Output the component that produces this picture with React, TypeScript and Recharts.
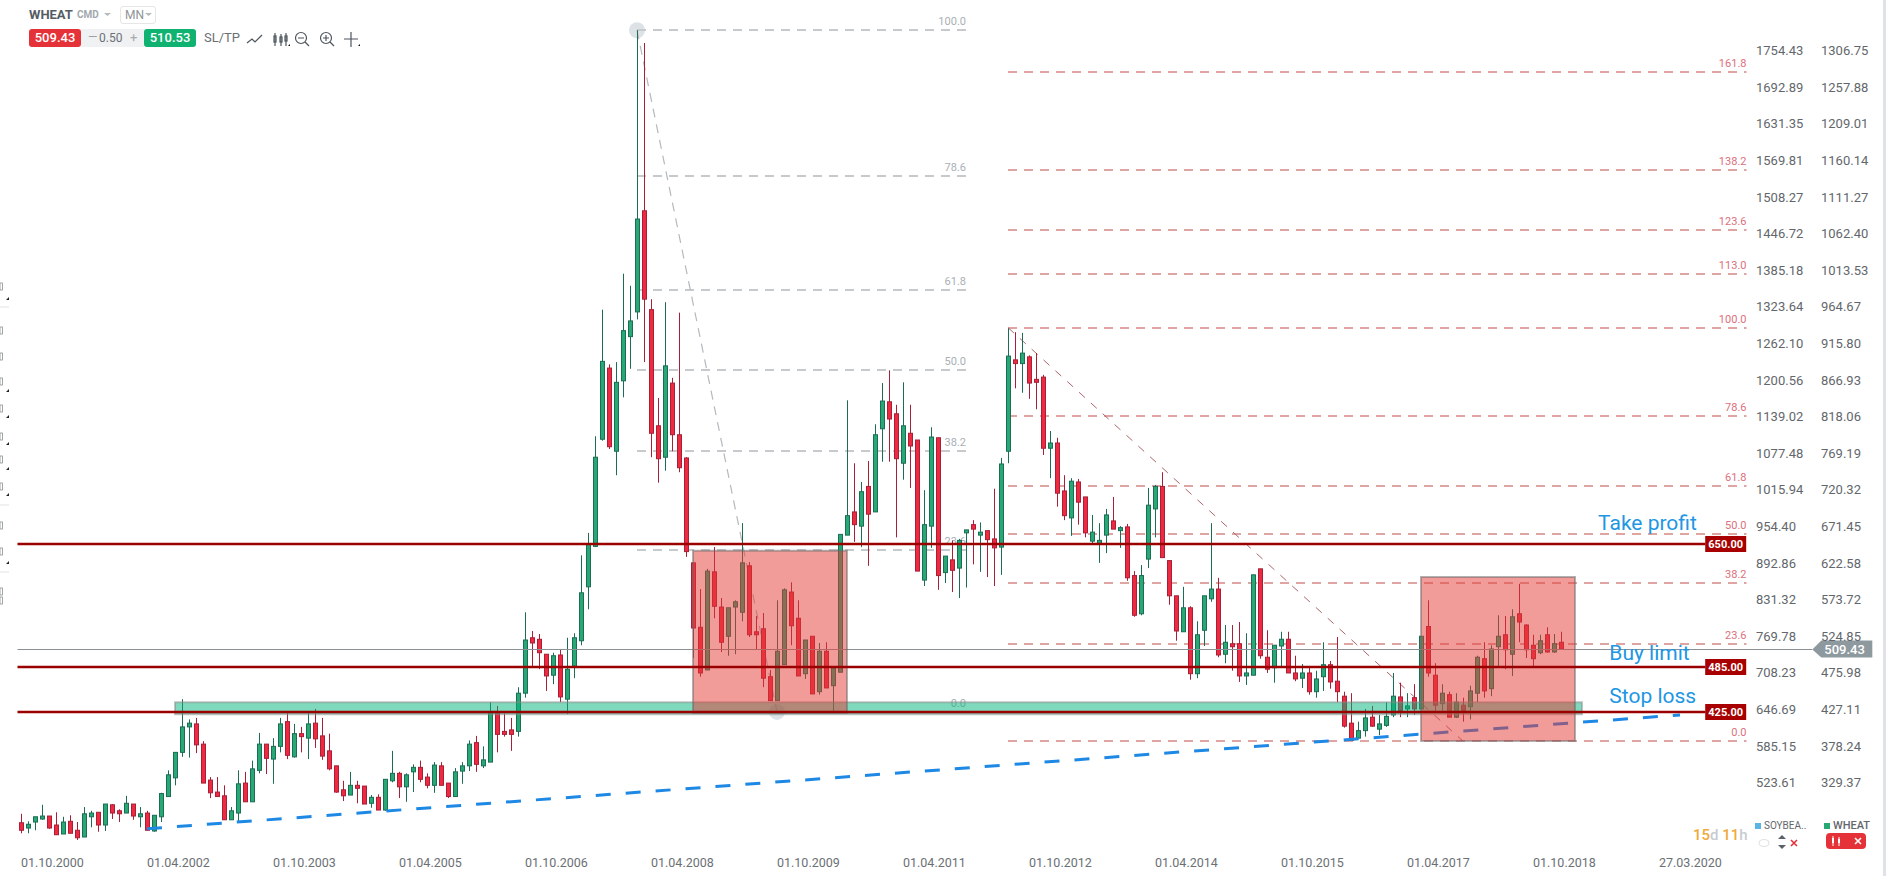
import { ComposedChart, Bar, XAxis, YAxis, ReferenceLine, ReferenceArea, ReferenceDot } from 'recharts';

const FONT = 'Roboto, sans-serif';
const UP = '#27a874';
const UP_DARK = '#1b6d55';
const DOWN = '#ef2a40';
const DOWN_DARK = '#a81f38';

// monthly candles from 01.10.2000, wheat price scale
const opens = [
  278, 271, 279, 283, 287, 275, 263, 280, 268, 259, 286, 292, 275, 302, 294, 291, 303, 286, 291, 267,
  286, 313, 338, 372, 406, 410, 383, 335, 319, 314, 282, 291, 331, 306, 348, 383, 363, 380, 413, 366,
  397, 391, 411, 394, 374, 354, 322, 315, 328, 327, 304, 312, 295, 334, 344, 326, 346, 352, 339, 328,
  354, 331, 313, 347, 354, 385, 354, 359, 425, 400, 402, 400, 451, 525, 523, 503, 475, 502, 443, 487,
  521, 593, 647, 790, 885, 774, 868, 927, 960, 1095, 963, 808, 766, 865, 796, 765, 625, 539, 482, 613,
  566, 527, 566, 559, 621, 533, 537, 473, 441, 489, 586, 551, 477, 527, 453, 507, 461, 479, 662, 693,
  674, 727, 693, 804, 840, 824, 758, 798, 789, 602, 674, 792, 612, 629, 618, 665, 676, 662, 668, 657,
  646, 774, 896, 891, 900, 870, 873, 778, 785, 721, 685, 733, 713, 654, 651, 662, 681, 668, 673, 608,
  557, 630, 697, 727, 628, 581, 533, 565, 477, 535, 577, 590, 503, 517, 517, 474, 475, 617, 499, 485,
  514, 523, 478, 471, 478, 453, 473, 489, 467, 447, 411, 391, 401, 419, 403, 408, 422, 446, 430, 445,
  430, 540, 475, 437, 449, 419, 435, 433, 451, 497, 457, 513, 529, 503, 557, 542, 515, 505, 529, 506,
  519,
];
const highs = [
  290, 280, 286, 302, 287, 292, 286, 288, 279, 299, 294, 292, 303, 303, 296, 314, 303, 299, 294, 288,
  318, 348, 372, 443, 416, 418, 387, 339, 339, 328, 299, 348, 346, 361, 398, 383, 391, 418, 425, 410,
  406, 425, 430, 418, 397, 354, 334, 346, 334, 327, 315, 316, 336, 374, 346, 344, 356, 361, 344, 359,
  359, 331, 351, 359, 388, 394, 380, 439, 434, 424, 418, 459, 559, 534, 530, 503, 505, 510, 525, 531,
  635, 665, 794, 963, 890, 893, 1011, 995, 1336, 1319, 977, 845, 973, 872, 959, 766, 625, 590, 617, 646,
  578, 565, 575, 678, 626, 554, 558, 482, 575, 591, 599, 575, 522, 527, 518, 519, 485, 663, 842, 758,
  733, 761, 810, 865, 882, 836, 866, 836, 789, 722, 806, 792, 634, 655, 657, 669, 682, 679, 668, 724,
  765, 938, 933, 932, 902, 905, 876, 801, 792, 742, 738, 737, 713, 689, 678, 697, 713, 674, 677, 614,
  622, 725, 729, 746, 628, 581, 593, 567, 547, 581, 678, 605, 542, 542, 546, 531, 609, 617, 535, 515,
  533, 533, 501, 490, 485, 481, 519, 494, 526, 453, 451, 413, 430, 434, 422, 439, 478, 465, 451, 463,
  527, 575, 491, 463, 453, 451, 445, 461, 501, 519, 515, 555, 554, 563, 597, 543, 529, 529, 539, 530,
  533,
];
const lows = [
  264, 264, 268, 282, 270, 262, 263, 264, 255, 259, 272, 266, 267, 283, 279, 291, 282, 272, 268, 266,
  279, 313, 328, 366, 365, 371, 331, 311, 313, 282, 282, 279, 306, 306, 344, 343, 330, 372, 363, 365,
  372, 363, 378, 362, 348, 318, 307, 315, 304, 303, 298, 295, 294, 332, 311, 306, 319, 332, 324, 318,
  328, 311, 313, 330, 347, 346, 351, 359, 372, 393, 374, 393, 445, 487, 483, 454, 463, 439, 423, 471,
  515, 563, 646, 788, 777, 742, 846, 884, 950, 893, 766, 732, 748, 774, 746, 633, 498, 473, 482, 551,
  506, 501, 503, 547, 526, 509, 459, 441, 441, 489, 515, 474, 470, 450, 449, 458, 426, 479, 662, 653,
  646, 621, 693, 760, 760, 659, 736, 725, 614, 594, 645, 589, 598, 586, 578, 592, 623, 613, 606, 594,
  609, 758, 858, 852, 844, 830, 769, 738, 700, 682, 661, 676, 659, 651, 625, 638, 670, 645, 601, 553,
  555, 618, 659, 632, 569, 521, 533, 469, 471, 514, 573, 499, 491, 481, 466, 462, 475, 497, 478, 465,
  486, 478, 467, 458, 449, 445, 454, 457, 439, 405, 388, 391, 393, 406, 395, 406, 419, 419, 419, 422,
  430, 473, 426, 428, 419, 418, 413, 416, 439, 445, 447, 486, 483, 474, 519, 498, 487, 503, 505, 505,
  511,
];
const closes = [
  268, 276, 286, 287, 271, 262, 279, 264, 258, 290, 291, 275, 303, 291, 290, 304, 287, 290, 268, 288,
  317, 342, 372, 406, 411, 382, 331, 318, 313, 282, 294, 330, 306, 350, 383, 364, 380, 410, 368, 397,
  393, 410, 390, 367, 350, 319, 314, 328, 324, 303, 312, 295, 336, 344, 326, 342, 352, 336, 328, 355,
  328, 313, 346, 354, 383, 356, 362, 425, 396, 396, 396, 451, 522, 518, 505, 474, 501, 446, 483, 525,
  585, 650, 766, 894, 780, 866, 935, 948, 1084, 977, 798, 764, 888, 796, 752, 640, 538, 478, 614, 567,
  519, 565, 573, 625, 529, 529, 471, 441, 507, 589, 541, 474, 522, 450, 507, 458, 485, 663, 688, 676,
  720, 690, 796, 841, 817, 764, 808, 781, 614, 676, 793, 608, 634, 615, 655, 669, 670, 666, 656, 645,
  757, 901, 891, 905, 865, 866, 778, 785, 718, 688, 734, 706, 665, 666, 655, 689, 670, 672, 605, 555,
  608, 702, 727, 632, 581, 534, 565, 477, 529, 581, 590, 502, 519, 513, 474, 478, 609, 501, 483, 515,
  523, 478, 470, 478, 453, 470, 489, 466, 453, 407, 388, 401, 418, 407, 410, 420, 447, 428, 434, 430,
  527, 478, 435, 451, 419, 439, 428, 454, 499, 454, 510, 527, 509, 553, 546, 509, 497, 521, 506, 517,
  510,
];

const dateTicks = [0, 18, 36, 54, 72, 90, 108, 126, 144, 162, 180, 198, 216, 234];
const dateLabels = [
  '01.10.2000', '01.04.2002', '01.10.2003', '01.04.2005', '01.10.2006', '01.04.2008', '01.10.2009',
  '01.04.2011', '01.10.2012', '01.04.2014', '01.10.2015', '01.04.2017', '01.10.2018', '27.03.2020',
];
// soybean scale shares its rows with the wheat scale, no soybean series is on screen
const soyTicks = [
  1754.43, 1692.89, 1631.35, 1569.81, 1508.27, 1446.72, 1385.18, 1323.64, 1262.1, 1200.56, 1139.02,
  1077.48, 1015.94, 954.4, 892.86, 831.32, 769.78, 708.23, 646.69, 585.15, 523.61,
];
const wheatTicks = [
  1306.75, 1257.88, 1209.01, 1160.14, 1111.27, 1062.4, 1013.53, 964.67, 915.8, 866.93, 818.06, 769.19,
  720.32, 671.45, 622.58, 573.72, 524.85, 475.98, 427.11, 378.24, 329.37,
];

// fibonacci sets
const greyFibNames = ['100.0', '78.6', '61.8', '50.0', '38.2', '23.6', '0.0'];
const greyFibPrices = [1336, 1141, 989, 882, 774, 642, 426];
const redFibNames = ['161.8', '138.2', '123.6', '113.0', '100.0', '78.6', '61.8', '50.0', '38.2', '23.6', '0.0'];
const redFibPrices = [1280, 1150, 1069, 1011, 939, 821, 728, 663, 598, 517, 387];

const orderPrices = [650, 485, 425];
const currentPrice = 509.43;

const notes = [
  { text: 'Take profit', month: 225.3, price: 669 },
  { text: 'Buy limit', month: 226.9, price: 495 },
  { text: 'Stop loss', month: 226.9, price: 438 },
];

const rows = opens.map((open, month) => ({
  month,
  open,
  close: closes[month],
  high: highs[month],
  low: lows[month],
  range: [lows[month], highs[month]],
}));

function Candle(props: any) {
  const { x, y, width, height, payload } = props;
  const { open, close, high, low } = payload;
  const perUnit = height / (high - low);
  const cx = Math.round(x + width / 2);
  const top = y + (high - Math.max(open, close)) * perUnit;
  const bodyH = Math.max(Math.abs(open - close) * perUnit, 1);
  const up = close >= open;
  return (
    <g>
      <line x1={cx + 0.5} x2={cx + 0.5} y1={y} y2={y + height} stroke={up ? UP_DARK : DOWN_DARK} strokeWidth={1} />
      <rect
        x={cx - 1.5}
        y={top}
        width={4}
        height={bodyH}
        fill={up ? UP : DOWN}
        stroke={up ? UP_DARK : DOWN_DARK}
        strokeWidth={1}
      />
    </g>
  );
}

function DateTick({ x, y, payload }: any) {
  const i = dateTicks.indexOf(payload.value);
  return (
    <text x={x} y={y} dy={9} fontFamily={FONT} fontSize={12.5} fill="#6b7075" textAnchor="start">
      {dateLabels[i]}
    </text>
  );
}

function PriceTick({ y, payload }: any) {
  const row = wheatTicks.indexOf(payload.value);
  return (
    <g fontFamily={FONT} fontSize={13} fill="#63676c">
      <text x={1756} y={y} dy={3}>{soyTicks[row].toFixed(2)}</text>
      <text x={1821} y={y} dy={3}>{payload.value.toFixed(2)}</text>
    </g>
  );
}

const fibShape = (name: string, dash: string, color: string) =>
  function FibShape({ x1, y1, x2 }: any) {
    const y = Math.round(y1);
    return (
      <g>
        <line x1={x1} y1={y} x2={x2} y2={y} stroke={dash} strokeWidth={2} strokeDasharray="9 7" />
        <text x={x2} y={y - 5} textAnchor="end" fontFamily={FONT} fontSize={11} fill={color}>
          {name}
        </text>
      </g>
    );
  };

const orderShape = (name: string) =>
  function OrderShape({ x1, y1, x2 }: any) {
    const y = Math.floor(y1);
    return (
      <g>
        <line x1={x1} y1={y} x2={x2} y2={y} stroke="#9a0000" strokeWidth={2.5} />
        <rect x={x2} y={y - 8} width={41} height={16} fill="#a80000" />
        <text x={x2 + 20.5} y={y + 4} textAnchor="middle" fontFamily={FONT} fontSize={11} fontWeight={700} fill="#fff">
          {name}
        </text>
      </g>
    );
  };

function CurrentShape({ x1, y1, x2 }: any) {
  const y = Math.round(y1) + 0.5;
  return (
    <g>
      <line x1={x1} y1={y} x2={x2} y2={y} stroke="#8b9095" strokeWidth={1} />
      <polygon
        points={`${x2},${y} ${x2 + 9},${y - 9} ${x2 + 60},${y - 9} ${x2 + 60},${y + 8} ${x2 + 9},${y + 8}`}
        fill="#8e999f"
      />
      <text x={x2 + 12} y={y + 4} fontFamily={FONT} fontSize={13} fontWeight={500} fill="#fff">
        {currentPrice.toFixed(2)}
      </text>
    </g>
  );
}

const noteShape = (text: string) =>
  function NoteShape({ cx, cy }: any) {
    return (
      <text x={cx} y={cy} fontFamily={FONT} fontSize={21} fill="#2196e3">
        {text}
      </text>
    );
  };

function Toolbar() {
  const base = { position: 'absolute', fontFamily: FONT, whiteSpace: 'nowrap' } as const;
  return (
    <>
      <span style={{ ...base, left: 29, top: 7, fontSize: 13, fontWeight: 700, color: '#555c63' }}>WHEAT</span>
      <span style={{ ...base, left: 77, top: 9, fontSize: 10, fontWeight: 700, color: '#a3a9ae' }}>CMD</span>
      <div style={{ ...base, left: 120, top: 6, width: 34, height: 16, border: '1px solid #e6e6e6', borderRadius: 3 }} />
      <span style={{ ...base, left: 125, top: 8, fontSize: 12, color: '#8e9499' }}>MN</span>
      <svg style={{ position: 'absolute', left: 100, top: 10 }} width={60} height={10}>
        <path d="M4 3h7l-3.5 3z M45 3h7l-3.5 3z" fill="#b5babe" />
      </svg>
      <div style={{ ...base, left: 29, top: 29, width: 52, height: 18, background: '#e53238', borderRadius: 3, color: '#fff', fontSize: 13, fontWeight: 500, textAlign: 'center', lineHeight: '18px' }}>
        509.43
      </div>
      <div style={{ ...base, left: 81, top: 29, width: 63, height: 18, background: '#f0f1f3' }} />
      <span style={{ ...base, left: 88, top: 30, fontSize: 12, color: '#9aa0a5' }}>—</span>
      <span style={{ ...base, left: 99, top: 31, fontSize: 12, color: '#6b7075' }}>0.50</span>
      <span style={{ ...base, left: 130, top: 30, fontSize: 13, color: '#a6abb0' }}>+</span>
      <div style={{ ...base, left: 144, top: 29, width: 52, height: 18, background: '#0fb271', borderRadius: 3, color: '#fff', fontSize: 13, fontWeight: 500, textAlign: 'center', lineHeight: '18px' }}>
        510.53
      </div>
      <span style={{ ...base, left: 204, top: 30, fontSize: 13, color: '#6b7075' }}>SL/TP</span>
      <svg style={{ position: 'absolute', left: 240, top: 28 }} width={125} height={22} fill="none" stroke="#4d555c" strokeWidth={1.2}>
        <path d="M7 15l5-4 3 3 7-7" />
        <path d="M35 5v13M41 6v12M46 5v13" />
        <rect x={34} y={8} width={2} height={6} />
        <rect x={40} y={9} width={2} height={5} />
        <rect x={45} y={8} width={2} height={5} />
        <circle cx={61} cy={10} r={5.5} />
        <path d="M65 14l4 4M58 10h6" />
        <circle cx={86} cy={10} r={5.5} />
        <path d="M90 14l4 4M83 10h6M86 7v6" />
        <path d="M111 4v15M104 11h14" />
        <path d="M48 18l2 0 0-2z M118 18l2 0 0-2z" fill="#111" stroke="none" />
      </svg>
    </>
  );
}

// cropped side toolbar at the left edge of the page
const sideTriangles = [298, 390, 416, 443, 468, 494, 562];
const sideSeparators = [307, 505, 572];
const sideStubs = [283, 327, 353, 378, 405, 433, 456, 483, 522, 548, 588, 597];

function SideBar() {
  return (
    <svg style={{ position: 'absolute', left: 0, top: 270 }} width={12} height={340}>
      {sideTriangles.map((y) => (
        <path key={y} d={`M6 ${y - 270 + 2}h3v-3z`} fill="#222" />
      ))}
      {sideSeparators.map((y) => (
        <line key={y} x1={0} x2={9} y1={y - 270} y2={y - 270} stroke="#e3e3e3" />
      ))}
      {sideStubs.map((y) => (
        <rect key={y} x={0} y={y - 270} width={2.5} height={7} fill="none" stroke="#8b8f93" strokeWidth={0.8} />
      ))}
    </svg>
  );
}

function Footer() {
  const base = { position: 'absolute', fontFamily: FONT, whiteSpace: 'nowrap' } as const;
  return (
    <>
      <span style={{ ...base, left: 1693, top: 826, fontSize: 15, fontWeight: 500, color: '#c7ccd0' }}>
        <span style={{ color: '#f0a93a' }}>15</span>d <span style={{ color: '#f0a93a' }}>11</span>h
      </span>
      <div style={{ ...base, left: 1755, top: 823, width: 6, height: 6, background: '#5ab4e6' }} />
      <span style={{ ...base, left: 1764, top: 820, fontSize: 10, color: '#63676c' }}>SOYBEA..</span>
      <div style={{ ...base, left: 1824, top: 823, width: 6, height: 6, background: '#27a874' }} />
      <span style={{ ...base, left: 1833, top: 819, fontSize: 11, fontWeight: 500, color: '#63676c' }}>WHEAT</span>
      <svg style={{ position: 'absolute', left: 1756, top: 832 }} width={112} height={20}>
        <ellipse cx={8} cy={11} rx={5} ry={3.5} fill="none" stroke="#e0e3e5" strokeWidth={1.2} />
        <path d="M22 7l4-4 4 4z M22 13l4 4 4-4z" fill="#5b6167" />
        <path d="M35 8l6 6M41 8l-6 6" stroke="#e53238" strokeWidth={1.6} />
        <rect x={70} y={1} width={40} height={16} rx={4} fill="#e53238" />
        <path d="M77 4v10M83 5v9" stroke="#fff" strokeWidth={1} />
        <rect x={76} y={6} width={2} height={5} fill="#fff" />
        <rect x={82} y={7} width={2} height={4} fill="#fff" />
        <path d="M99 6l6 6M105 6l-6 6" stroke="#fff" strokeWidth={1.6} />
      </svg>
    </>
  );
}

export default function App() {
  return (
    <div style={{ position: 'absolute', left: 0, top: 0, width: 1886, height: 876, background: '#fff', overflow: 'hidden' }}>
      <ComposedChart
        width={1886}
        height={876}
        data={rows}
        margin={{ top: 0, right: 0, bottom: 0, left: 17.5 }}
      >
        <XAxis
          dataKey="month"
          type="number"
          domain={[-0.5, 246.5]}
          ticks={dateTicks}
          interval={0}
          axisLine={false}
          tickLine={false}
          height={26}
          tick={<DateTick />}
        />
        <YAxis
          yAxisId="wheat"
          orientation="right"
          width={139.5}
          domain={[241.65, 1376.4]}
          ticks={wheatTicks}
          interval={0}
          axisLine={false}
          tickLine={false}
          tick={<PriceTick />}
        />

        {greyFibPrices.map((price, i) => (
          <ReferenceLine
            key={`g${i}`}
            zIndex={60}
            yAxisId="wheat"
            segment={[{ x: 88, y: price }, { x: 135, y: price }]}
            shape={fibShape(greyFibNames[i], '#c6cacd', '#a9afb5')}
          />
        ))}
        {redFibPrices.map((price, i) => (
          <ReferenceLine
            key={`r${i}`}
            zIndex={60}
            yAxisId="wheat"
            segment={[{ x: 141, y: price }, { x: 246.5, y: price }]}
            shape={fibShape(redFibNames[i], '#dfa5a3', '#dd6f7c')}
          />
        ))}
        <ReferenceLine
          zIndex={60}
          yAxisId="wheat"
          segment={[{ x: 88, y: 1336 }, { x: 108, y: 426 }]}
          stroke="#b4b9bd"
          strokeWidth={1.2}
          strokeDasharray="9 7"
        />
        <ReferenceLine
          zIndex={60}
          yAxisId="wheat"
          segment={[{ x: 141, y: 939 }, { x: 206, y: 387 }]}
          stroke="#ad666b"
          strokeWidth={1}
          strokeDasharray="8 8"
        />
        <ReferenceDot zIndex={50} yAxisId="wheat" x={88} y={1336} r={8} fill="#dde2e6" stroke="none" />
        <ReferenceDot zIndex={50} yAxisId="wheat" x={108} y={426} r={8} fill="#dde2e6" stroke="none" />

        <Bar yAxisId="wheat" dataKey="range" barSize={5} isAnimationActive={false} shape={<Candle />} />

        <ReferenceLine
          zIndex={450}
          yAxisId="wheat"
          segment={[{ x: -0.5, y: currentPrice }, { x: 255.9, y: currentPrice }]}
          ifOverflow="visible"
          shape={CurrentShape}
        />
        <ReferenceLine
          zIndex={450}
          yAxisId="wheat"
          segment={[{ x: 18, y: 270 }, { x: 237, y: 422 }]}
          stroke="#1e88e5"
          strokeWidth={3}
          strokeDasharray="15 15"
        />
        <ReferenceArea
          zIndex={500}
          yAxisId="wheat"
          x1={22}
          x2={223}
          y1={423}
          y2={439}
          fill="#00b37a"
          fillOpacity={0.5}
          stroke="#888"
          strokeOpacity={0.5}
          strokeWidth={2}
        />
        <ReferenceArea
          zIndex={510}
          yAxisId="wheat"
          x1={96}
          x2={118}
          y1={425}
          y2={641}
          fill="#e53935"
          fillOpacity={0.5}
          stroke="#666"
          strokeOpacity={0.5}
          strokeWidth={2}
        />
        <ReferenceArea
          zIndex={510}
          yAxisId="wheat"
          x1={200}
          x2={222}
          y1={387}
          y2={606}
          fill="#e53935"
          fillOpacity={0.5}
          stroke="#666"
          strokeOpacity={0.5}
          strokeWidth={2}
        />
        {orderPrices.map((price) => (
          <ReferenceLine
            key={price}
            zIndex={600}
            yAxisId="wheat"
            segment={[{ x: -0.5, y: price }, { x: 240.6, y: price }]}
            shape={orderShape(price.toFixed(2))}
          />
        ))}
        {notes.map((n) => (
          <ReferenceDot key={n.text} zIndex={600} yAxisId="wheat" x={n.month} y={n.price} shape={noteShape(n.text)} />
        ))}
      </ComposedChart>
      <Toolbar />
      <SideBar />
      <Footer />
      <div style={{ position: 'absolute', left: 1883, top: 0, width: 3, height: 876, background: '#dfe3e8' }} />
    </div>
  );
}
